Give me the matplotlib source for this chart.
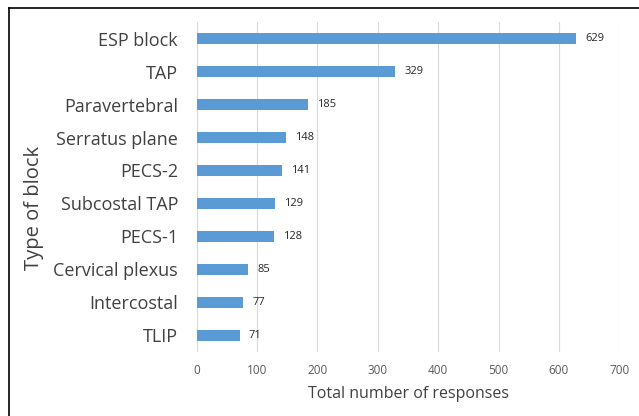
import matplotlib.pyplot as plt
from matplotlib.lines import Line2D

# block types and number of responses (top to bottom)
blocks = ['ESP block', 'TAP', 'Paravertebral', 'Serratus plane', 'PECS-2',
          'Subcostal TAP', 'PECS-1', 'Cervical plexus', 'Intercostal', 'TLIP']
responses = [629, 329, 185, 148, 141, 129, 128, 85, 77, 71]
xticks = [0, 100, 200, 300, 400, 500, 600, 700]

plt.rcParams['font.family'] = ['Open Sans', 'DejaVu Sans']

fig = plt.figure(figsize=(6.39, 4.16), dpi=100)
ax = fig.add_axes([0.308, 0.154, 0.661, 0.793])

ypos = list(range(len(blocks)))[::-1]
bars = ax.barh(ypos, responses, height=0.35, color='#5B9BD5', zorder=3)

# value labels to the right of each bar
for y, v in zip(ypos, responses):
    ax.text(v + 15, y, str(v), va='center', ha='left', fontsize=8, color='#262626')

ax.set_xlim(0, 700)
ax.set_ylim(-0.5, len(blocks) - 0.5)
ax.set_xticks(xticks)
ax.set_xticklabels([str(x) for x in xticks], fontsize=8.5, color='#595959')
ax.set_yticks(ypos)
ax.set_yticklabels(blocks, fontsize=13, color='#404040')
ax.tick_params(axis='both', length=0)
ax.tick_params(axis='x', pad=9)
ax.tick_params(axis='y', pad=13.5)
ax.grid(axis='x', color='#D9D9D9', linewidth=0.8, zorder=0)
for s in ax.spines.values():
    s.set_visible(False)

ax.set_xlabel('Total number of responses', fontsize=11.5, color='#404040', labelpad=6)
fig.text(0.053, 0.50, 'Type of block', rotation=90, fontsize=14.5, color='#404040',
         ha='center', va='center')

# frame lines along top and left of the figure
fig.add_artist(Line2D([0.0135, 0.0135], [0.0, 0.981], color='black', linewidth=1.2,
                      transform=fig.transFigure))
fig.add_artist(Line2D([0.0135, 1.0], [0.981, 0.981], color='black', linewidth=1.2,
                      transform=fig.transFigure))

fig.savefig('out.png', dpi=100)
